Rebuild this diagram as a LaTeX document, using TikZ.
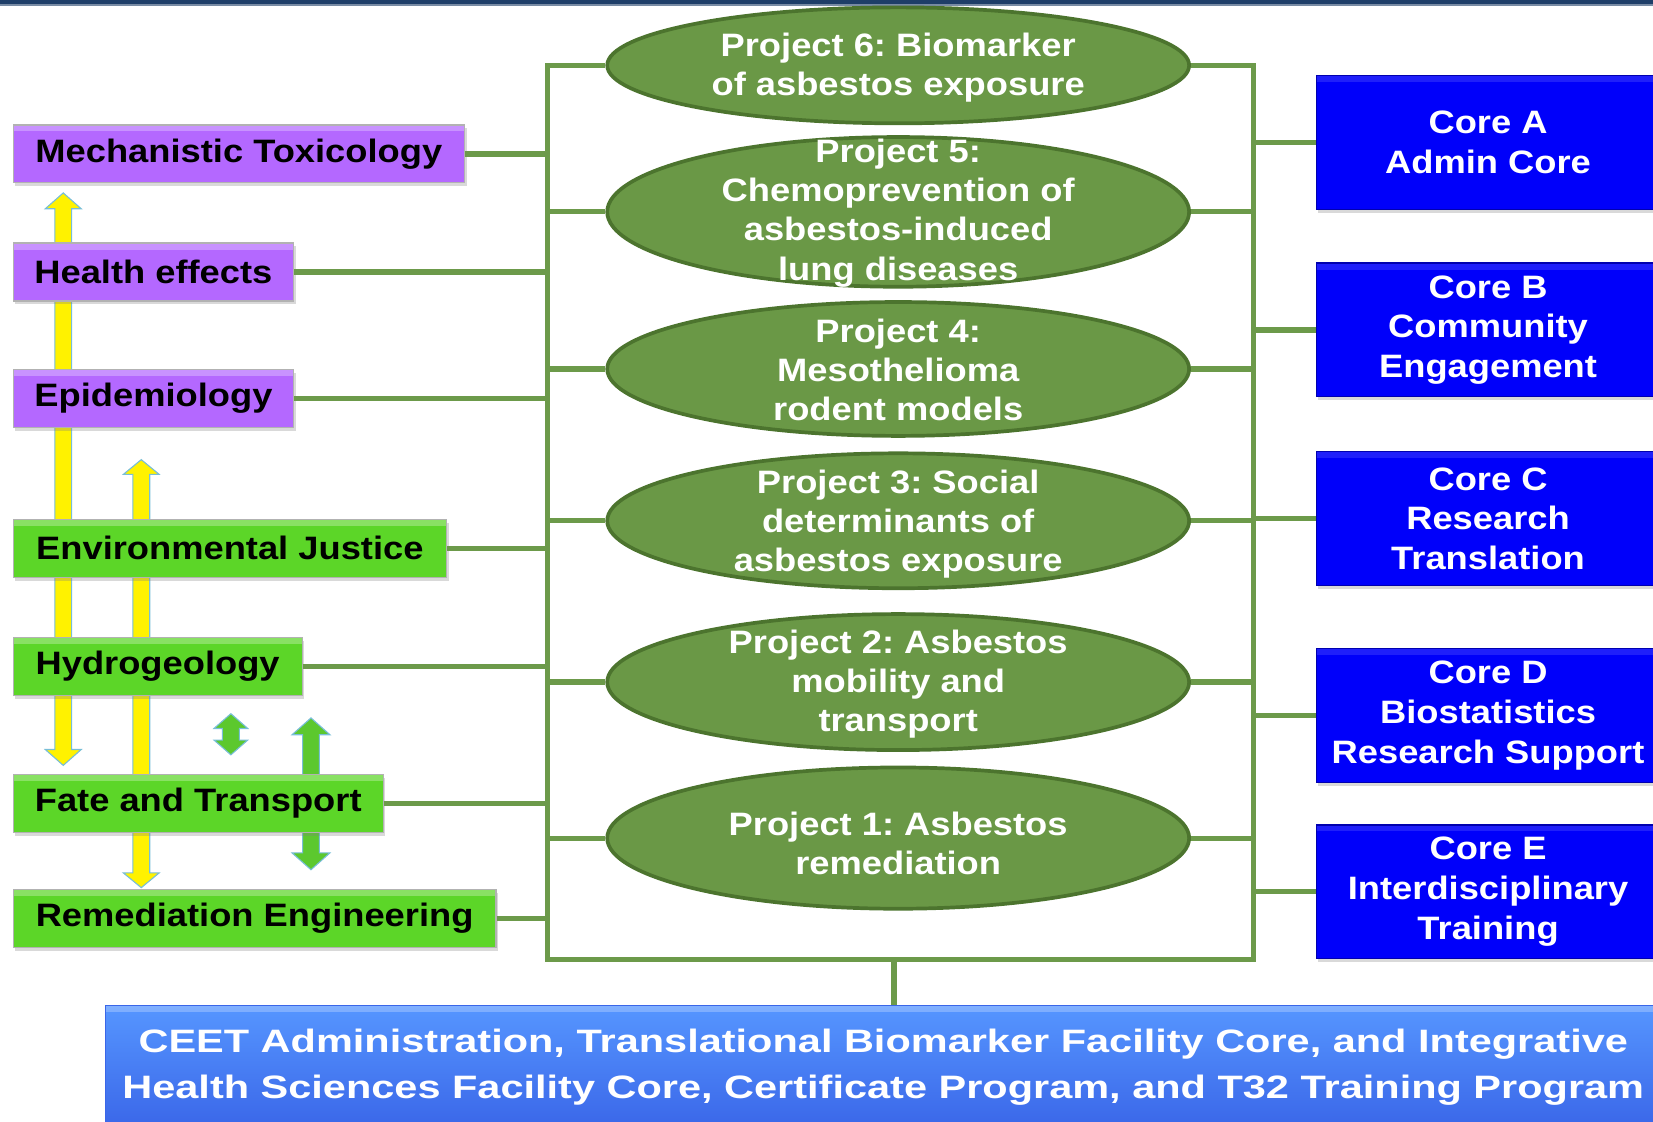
\documentclass[tikz,border=0pt]{standalone}
\usepackage{fontspec}
\setmainfont{Liberation Sans}[FakeStretch=1.12]
\newfontfamily\admfont{Liberation Sans}[FakeStretch=1.28]
\frenchspacing
\usetikzlibrary{positioning,shapes.geometric,shadows,backgrounds}
\definecolor{violetbox}{RGB}{180,104,255}
\definecolor{greenbox}{RGB}{92,214,40}
\definecolor{projfill}{RGB}{106,152,70}
\definecolor{projedge}{RGB}{76,116,46}
\definecolor{linkgreen}{RGB}{108,154,74}
\definecolor{coreblue}{RGB}{0,0,250}
\definecolor{admtop}{RGB}{86,150,255}
\definecolor{admbot}{RGB}{58,102,232}
\definecolor{arrowedge}{RGB}{120,190,215}
\definecolor{arrowgreen}{RGB}{92,200,46}
\definecolor{navybar}{RGB}{30,62,104}
\newcommand{\pxl}{0.02cm}
\newcommand{\boxfont}{\fontsize{17.5}{21.2}\selectfont\bfseries}
\newcommand{\dblarrow}[6]{\draw[#1] (#2,#3)--(#2+#6,#3+#5)--(#2+8,#3+#5)--(#2+8,#4-#5)--(#2+#6,#4-#5)--(#2,#4)--(#2-#6,#4-#5)--(#2-8,#4-#5)--(#2-8,#3+#5)--(#2-#6,#3+#5)--cycle;}
\tikzset{
  topedge/.style={path picture={\fill[white,opacity=#1] (path picture bounding box.north west) rectangle ([yshift=-3.5pt]path picture bounding box.north east);}},
  fieldbox/.style={rectangle,anchor=north west,minimum height=55*\pxl,inner sep=0pt,draw=gray!60,line width=0.6pt,text=black,font=\boxfont,topedge=0.28,drop shadow={opacity=0.3,shadow xshift=1.2pt,shadow yshift=-1.8pt}},
  lifebox/.style={fieldbox,fill=violetbox},
  geobox/.style={fieldbox,fill=greenbox},
  project/.style={ellipse,fill=projfill,draw=projedge,line width=2pt,minimum width=552*\pxl,inner sep=0pt},
  projtext/.style={text=white,align=center,font=\boxfont},
  corebox/.style={rectangle,anchor=north west,fill=coreblue,draw=coreblue!70!black,line width=0.6pt,text=white,align=center,font=\fontsize{17.5}{21.5}\selectfont\bfseries,minimum width=326*\pxl,minimum height=127*\pxl,topedge=0.12,drop shadow={opacity=0.3,shadow xshift=1.2pt,shadow yshift=-1.8pt}},
  admbox/.style={rectangle,anchor=north west,top color=admtop,bottom color=admbot,draw=admbot,text=white,align=center,font=\admfont\fontsize{17.5}{24.4}\selectfont\bfseries,minimum width=1475*\pxl,minimum height=118*\pxl,topedge=0.25},
  link/.style={draw=linkgreen,line width=2.8pt},
  yarrow/.style={fill=yellow,draw=arrowedge,line width=0.6pt},
  garrow/.style={fill=arrowgreen,draw=arrowedge,line width=0.6pt}
}
\begin{document}
\begin{tikzpicture}[x=\pxl,y=-\pxl]
\useasboundingbox (0,0) rectangle (1568,1064);
\fill[navybar] (0,0) rectangle (1568,4);
\draw[navybar!60!white,line width=0.8pt] (0,4.6)--(1568,4.6);
\node[lifebox,minimum width=428*\pxl] (mech) at (12,118) {Mechanistic Toxicology};
\node[lifebox,minimum width=266*\pxl] (health) at (12,230) {Health effects};
\node[lifebox,minimum width=266*\pxl] (epi) at (12,350) {Epidemiology};
\node[geobox,minimum width=411*\pxl] (envj) at (12,492) {Environmental Justice};
\node[geobox,minimum width=274*\pxl] (hydro) at (12,604) {Hydrogeology};
\node[geobox,minimum width=351*\pxl] (fate) at (12,734) {Fate and Transport};
\node[geobox,minimum width=458*\pxl] (remed) at (12,843) {Remediation Engineering};
\node[project,minimum height=110*\pxl] (p6) at (852,62) {};
\node[project,minimum height=142*\pxl] (p5) at (852,201) {};
\node[project,minimum height=127*\pxl] (p4) at (852,350) {};
\node[project,minimum height=128*\pxl] (p3) at (852,494) {};
\node[project,minimum height=129*\pxl] (p2) at (852,647) {};
\node[project,minimum height=134*\pxl] (p1) at (852,795) {};
\node[projtext] (p6t) at (852,64) {Project 6: Biomarker\\of asbestos exposure};
\node[projtext] (p5t) at (852,202) {Project 5:\\Chemoprevention of\\asbestos-induced\\lung diseases};
\node[projtext] (p4t) at (852,351) {Project 4:\\Mesothelioma\\rodent models};
\node[projtext] (p3t) at (852,497) {Project 3: Social\\determinants of\\asbestos exposure};
\node[projtext] (p2t) at (852,649) {Project 2: Asbestos\\mobility and\\transport};
\node[projtext] (p1t) at (852,800) {Project 1: Asbestos\\remediation};
\node[corebox] (ca) at (1248,71) {Core A\\Admin Core};
\node[corebox] (cb) at (1248,249) {Core B\\Community\\Engagement};
\node[corebox] (cc) at (1248,428) {Core C\\Research\\Translation};
\node[corebox] (cd) at (1248,615) {Core D\\Biostatistics\\Research Support};
\node[corebox] (ce) at (1248,782) {Core E\\Interdisciplinary\\Training};
\node[admbox] (adm) at (100,953) {CEET Administration, Translational Biomarker Facility Core, and Integrative\\Health Sciences Facility Core, Certificate Program, and T32 Training Program};
\coordinate (tl) at (519,62);\coordinate (bl) at (519,910);\coordinate (tr) at (1189,62);\coordinate (br) at (1189,910);\coordinate (bm) at (848,910);
\draw[link] (p6.west)--(tl)--(bl)--(br)--(tr)--(p6.east);
\draw[link] (p5.west-|tl)--(p5.west) (p4.west-|tl)--(p4.west) (p3.west-|tl)--(p3.west) (p2.west-|tl)--(p2.west) (p1.west-|tl)--(p1.west);
\draw[link] (p5.east)--(p5.east-|tr) (p4.east)--(p4.east-|tr) (p3.east)--(p3.east-|tr) (p2.east)--(p2.east-|tr) (p1.east)--(p1.east-|tr);
\draw[link] (mech.east)--(mech.east-|tl) (health.east)--(health.east-|tl) (epi.east)--(epi.east-|tl) (envj.east)--(envj.east-|tl) (hydro.east)--(hydro.east-|tl) (fate.east)--(fate.east-|tl) (remed.east)--(remed.east-|tl);
\draw[link] (ca.west)--(ca.west-|tr) (cb.west)--(cb.west-|tr) (cc.west)--(cc.west-|tr) (cd.west)--(cd.west-|tr) (ce.west)--(ce.west-|tr);
\draw[link] (bm)--(bm|-adm.north);
\begin{scope}[on background layer]
\dblarrow{yarrow}{60}{183}{726}{15}{17}
\dblarrow{yarrow}{134}{436}{842}{14}{17}
\dblarrow{garrow}{219}{677}{716}{14}{16}
\dblarrow{garrow}{295}{681}{825}{16}{18}
\end{scope}
\end{tikzpicture}
\end{document}
